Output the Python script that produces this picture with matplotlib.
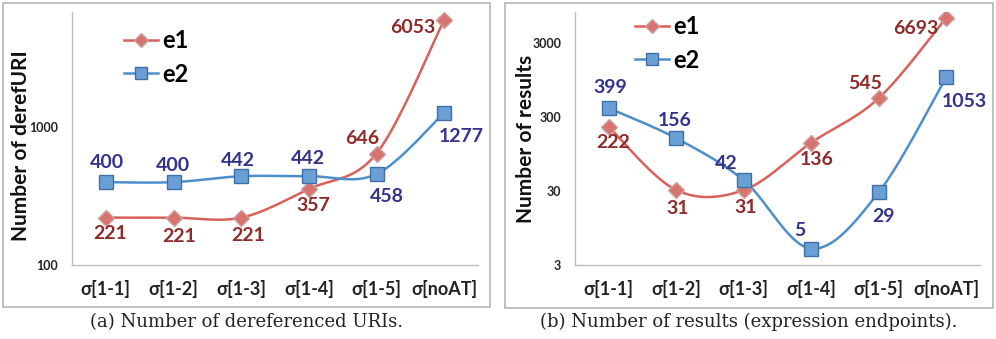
import numpy as np
import matplotlib
matplotlib.use("Agg")
import matplotlib.pyplot as plt
from matplotlib.patches import Rectangle
from matplotlib.lines import Line2D
from matplotlib.ticker import FixedLocator, FixedFormatter, NullLocator

categories = ["σ[1-1]", "σ[1-2]", "σ[1-3]", "σ[1-4]", "σ[1-5]", "σ[noAT]"]
series_names = ["e1", "e2"]

deref_e1 = [221, 221, 221, 357, 646, 6053]
deref_e2 = [400, 400, 442, 442, 458, 1277]
results_e1 = [222, 31, 31, 136, 545, 6693]
results_e2 = [399, 156, 42, 5, 29, 1053]

deref_ticks = [100, 1000]
results_ticks = [3, 30, 300, 3000]

captions = ["(a) Number of dereferenced URIs.",
            "(b) Number of results (expression endpoints)."]
ylabels = ["Number of derefURI", "Number of results"]

W, H = 996, 339
fig = plt.figure(figsize=(W / 100, H / 100), dpi=100)

FONT = ["Lato", "DejaVu Sans"]
C1_LINE, C1_FACE, C1_EDGE, C1_TXT = "#d9605b", "#d8746f", "#c9a09e", "#8e2b2a"
C2_LINE, C2_FACE, C2_EDGE, C2_TXT = "#4e8fcb", "#6a9fd6", "#3f6fa6", "#33338c"


def px_axes(x0, y0, x1, y1):
    return fig.add_axes([x0 / W, 1 - y1 / H, (x1 - x0) / W, (y1 - y0) / H])


def smooth(xs, ys, n=40):
    x = np.asarray(xs, float)
    y = np.log10(np.asarray(ys, float))
    P = np.column_stack([x, y])
    P = np.vstack([P[0], P, P[-1]])
    out = []
    for i in range(1, len(P) - 2):
        p0, p1, p2, p3 = P[i - 1], P[i], P[i + 1], P[i + 2]
        t = np.linspace(0, 1, n)[:, None]
        seg = 0.5 * ((2 * p1) + (-p0 + p2) * t + (2 * p0 - 5 * p1 + 4 * p2 - p3) * t ** 2
                     + (-p0 + 3 * p1 - 3 * p2 + p3) * t ** 3)
        out.append(seg)
    out = np.vstack(out)
    return out[:, 0], 10 ** out[:, 1]


def panel(box, axbox, e1, e2, ticks, ylim, ylabel, caption, off1, off2, legpos, ylab_xy):
    bx0, by0, bx1, by1 = box
    fig.patches.append(Rectangle((bx0 / W, 1 - by1 / H), (bx1 - bx0) / W, (by1 - by0) / H,
                                 transform=fig.transFigure, fill=False,
                                 edgecolor="#b5b5b5", linewidth=1.2))
    ax = px_axes(*axbox)
    x = np.arange(len(categories))
    for vals, lc, fc, ec, mk, ms, tc, offs in [
        (e1, C1_LINE, C1_FACE, C1_EDGE, "D", 8, C1_TXT, off1),
        (e2, C2_LINE, C2_FACE, C2_EDGE, "s", 10, C2_TXT, off2),
    ]:
        sx, sy = smooth(x, vals)
        ax.plot(sx, sy, color=lc, lw=1.8, zorder=2)
        ax.plot(x, vals, ls="none", marker=mk, ms=ms, mfc=fc, mec=ec, mew=1.0, zorder=3)
        for xi, v, (dx, dy) in zip(x, vals, offs):
            ax.annotate(str(v), (xi, v), xytext=(dx, dy), textcoords="offset pixels",
                        ha="center", va="center", fontsize=14, fontweight="bold",
                        color=tc, family=FONT, zorder=4)
    ax.set_yscale("log")
    ax.set_ylim(*ylim)
    ax.set_xlim(-0.5, len(categories) - 0.5)
    ax.yaxis.set_major_locator(FixedLocator(ticks))
    ax.yaxis.set_major_formatter(FixedFormatter([str(t) for t in ticks]))
    ax.yaxis.set_minor_locator(NullLocator())
    ax.set_xticks(x)
    ax.set_xticklabels(categories)
    for lab in ax.get_xticklabels():
        lab.set_fontsize(13)
        lab.set_fontweight("bold")
        lab.set_family(FONT)
    for lab in ax.get_yticklabels():
        lab.set_fontsize(9)
        lab.set_fontweight("bold")
        lab.set_family(FONT)
    ax.tick_params(axis="both", length=0, colors="#222222")
    ax.tick_params(axis="x", pad=11)
    ax.tick_params(axis="y", pad=10)
    for s in ["top", "right"]:
        ax.spines[s].set_visible(False)
    for s in ["left", "bottom"]:
        ax.spines[s].set_color("#bdbdbd")
        ax.spines[s].set_linewidth(1.0)
    ax.set_facecolor("none")
    fig.text(ylab_xy[0] / W, 1 - ylab_xy[1] / H, ylabel, rotation=90,
             ha="center", va="center", fontsize=15, fontweight="bold", family=FONT,
             color="#111111")
    fig.text(((bx0 + bx1) / 2) / W, 1 - 322 / H, caption, ha="center", va="center",
             fontsize=13, family="DejaVu Serif", color="#222222")
    handles = [Line2D([], [], color=C1_LINE, lw=1.8, marker="D", ms=7, mfc=C1_FACE, mec=C1_EDGE),
               Line2D([], [], color=C2_LINE, lw=1.8, marker="s", ms=8, mfc=C2_FACE, mec=C2_EDGE)]
    ax.legend(handles, series_names, loc="upper left",
              bbox_to_anchor=(legpos[0] / W, 1 - legpos[1] / H),
              bbox_transform=fig.transFigure, frameon=False,
              prop={"family": FONT, "weight": "bold", "size": 17},
              handlelength=1.45, handletextpad=0.15, labelspacing=0.45,
              borderpad=0, borderaxespad=0)
    return ax


off_deref_e1 = [(4, -16), (6, -19), (7, -18), (4, -17), (-14, 15), (-31, -8)]
off_deref_e2 = [(1, 20), (-1, 17), (-3, 16), (-1, 18), (10, -22), (17, -24)]
off_res_e1 = [(4, -16), (1, -18), (2, -17), (5, -17), (-14, 15), (-31, -11)]
off_res_e2 = [(1, 21), (-2, 18), (-18, 17), (-11, 18), (5, -24), (18, -24)]

panel((3, 3, 490, 307), (72, 12, 478, 265), deref_e1, deref_e2, deref_ticks,
      (100, 6900), ylabels[0], captions[0], off_deref_e1, off_deref_e2, (124, 29), (21, 146))
panel((505, 3, 993, 308), (575, 12, 980, 265), results_e1, results_e2, results_ticks,
      (3, 8000), ylabels[1], captions[1], off_res_e1, off_res_e2, (635, 15), (526, 139))

fig.savefig("out.png", dpi=100)
